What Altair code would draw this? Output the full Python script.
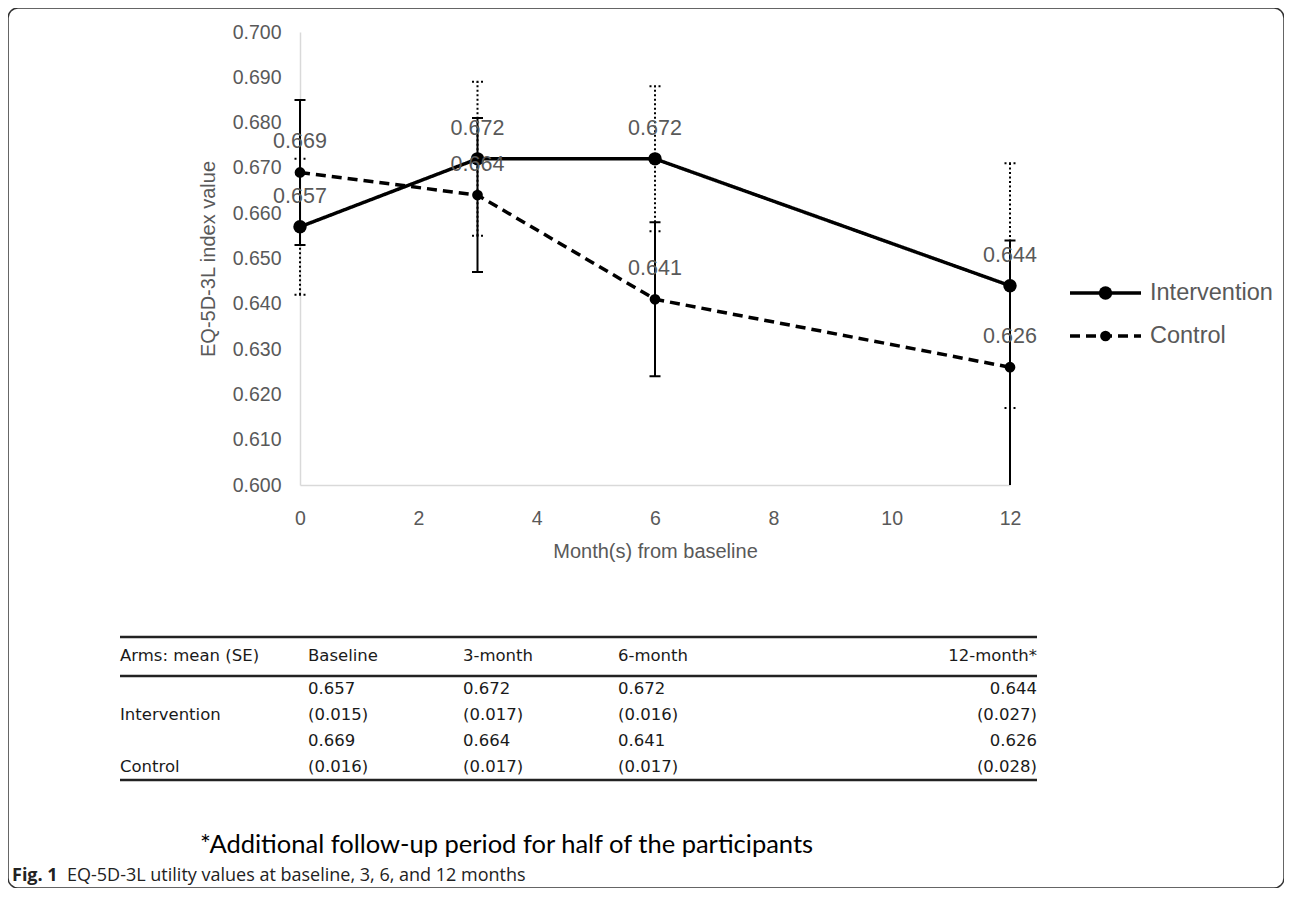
import altair as alt
import pandas as pd

# ---------------- data ----------------
months = [0, 3, 6, 12]
series = ["Intervention", "Control"]
int_mean = [0.657, 0.672, 0.672, 0.644]
int_se = [0.015, 0.017, 0.016, 0.027]
ctl_mean = [0.669, 0.664, 0.641, 0.626]
ctl_se = [0.016, 0.017, 0.017, 0.028]

x_ticks = [0, 2, 4, 6, 8, 10, 12]
y_ticks = [0.600, 0.610, 0.620, 0.630, 0.640, 0.650, 0.660, 0.670, 0.680, 0.690, 0.700]

table_headers = ["Arms: mean (SE)", "Baseline", "3-month", "6-month", "12-month*"]
table_row_labels = ["Intervention", "Control"]

footnote = "*Additional follow-up period for half of the participants"
caption_bold = "Fig. 1"
caption_text = "EQ-5D-3L utility values at baseline, 3, 6, and 12 months"

# ---------------- frames ----------------
rows = []
for name, means, ses in [("Intervention", int_mean, int_se), ("Control", ctl_mean, ctl_se)]:
    for m, v, s in zip(months, means, ses):
        rows.append({"month": m, "series": name, "mean": v, "se": s,
                     "lo": round(v - s, 4), "hi": round(v + s, 4), "label": f"{v:.3f}"})
df = pd.DataFrame(rows)

W, H = 1276, 880
GRAY = "#595959"
FONT = "Liberation Sans"

XS = alt.Scale(domain=[0, 12], range=[292, 1002], nice=False, zero=False)
YS = alt.Scale(domain=[0.6, 0.7], range=[477, 24], nice=False, zero=False, clamp=True)

x_axis = alt.Axis(values=x_ticks, title="Month(s) from baseline", grid=False, ticks=False, tickSize=0,
                  domainColor="#d9d9d9", domainWidth=1.5, labelFont=FONT, labelFontSize=19.5,
                  labelColor=GRAY, labelPadding=24, labelFlush=False, titleFont=FONT, titleFontSize=20,
                  titleColor=GRAY, titleFontWeight="normal", titlePadding=14, offset=477 - H)
y_axis = alt.Axis(values=y_ticks, format=".3f", title="EQ-5D-3L index value", grid=False, ticks=False,
                  tickSize=0, domainColor="#d9d9d9", domainWidth=1.5, labelFont=FONT, labelFontSize=19.5,
                  labelColor=GRAY, labelPadding=19, titleFont=FONT, titleFontSize=20, titleColor=GRAY,
                  titleFontWeight="normal", titlePadding=14, offset=-292)


def X(field="month"):
    return alt.X(f"{field}:Q", scale=XS, axis=x_axis)


def Y(field):
    return alt.Y(f"{field}:Q", scale=YS, axis=y_axis)


base = alt.Chart(df)
main_layers = []
# error bars: intervention dotted, control solid
for name, dash in [("Intervention", [2, 2.5]), ("Control", [1, 0])]:
    sub = base.transform_filter(alt.datum.series == name)
    main_layers.append(sub.mark_rule(color="black", strokeWidth=2, strokeDash=dash)
                       .encode(x=X(), y=Y("lo"), y2="hi:Q"))
    for end in ["lo", "hi"]:
        main_layers.append(sub.transform_filter(f"datum.{end} >= 0.6")
                           .mark_rule(color="black", strokeWidth=2, strokeDash=dash,
                                      xOffset=-5.5, x2Offset=5.5)
                           .encode(x=X(), x2="month:Q", y=Y(end)))
# lines and points
for name, dash, size in [("Intervention", [1, 0], 180), ("Control", [10, 6], 115)]:
    sub = base.transform_filter(alt.datum.series == name)
    main_layers.append(sub.mark_line(color="black", strokeWidth=3.5, strokeDash=dash)
                       .encode(x=X(), y=Y("mean")))
    main_layers.append(sub.mark_point(filled=True, color="black", opacity=1, size=size)
                       .encode(x=X(), y=Y("mean")))
main_layers.append(base.mark_text(dy=-30, font=FONT, fontSize=21.5, color=GRAY)
                   .encode(x=X(), y=Y("mean"), text="label:N"))
main = alt.layer(*main_layers)

# ---------------- legend ----------------
leg_df = pd.DataFrame({"series": series})
LX = alt.Scale(domain=[0, 1], range=[1062, 1133], nice=False, zero=False)
LY = alt.Scale(type="point", domain=series, range=[285, 328], padding=0)
leg_base = alt.Chart(leg_df)
leg_layers = []
for name, dash, size in [("Intervention", [1, 0], 180), ("Control", [10, 6], 115)]:
    sub = leg_base.transform_filter(alt.datum.series == name)
    leg_layers.append(sub.mark_rule(color="black", strokeWidth=3.5, strokeDash=dash)
                      .encode(x=alt.XDatum(0, scale=LX, axis=None), x2=alt.X2Datum(1),
                              y=alt.Y("series:N", scale=LY, axis=None)))
    leg_layers.append(sub.mark_point(filled=True, color="black", opacity=1, size=size)
                      .encode(x=alt.XDatum(0.5, scale=LX, axis=None),
                              y=alt.Y("series:N", scale=LY, axis=None)))
leg_layers.append(leg_base.mark_text(align="left", dx=9, font=FONT, fontSize=23.5, color=GRAY)
                  .encode(x=alt.XDatum(1, scale=LX, axis=None),
                          y=alt.Y("series:N", scale=LY, axis=None), text="series:N"))
legend = alt.layer(*leg_layers)

# ---------------- table ----------------
cells = []
for c, h in enumerate(table_headers):
    cells.append({"col": c, "row": 0, "text": h})
for r, (name, means, ses) in enumerate([("Intervention", int_mean, int_se), ("Control", ctl_mean, ctl_se)]):
    cells.append({"col": 0, "row": 2 * r + 2, "text": name})
    for c, (v, s) in enumerate(zip(means, ses)):
        cells.append({"col": c + 1, "row": 2 * r + 1, "text": f"{v:.3f}"})
        cells.append({"col": c + 1, "row": 2 * r + 2, "text": f"({s:.3f})"})
cells_df = pd.DataFrame(cells)
TX = alt.Scale(domain=[0, 1, 2, 3, 4], range=[112, 300, 455, 610, 1029], nice=False, zero=False)
TY = alt.Scale(domain=[-0.5, 0, 0.5, 1, 4, 4.5], range=[629, 648, 668, 681, 759, 772], nice=False, zero=False)
tbase = alt.Chart(cells_df)
TFONT = "DejaVu Sans"
t_left = tbase.transform_filter("datum.col < 4").mark_text(
    align="left", font=TFONT, fontSize=16.5, color="#1a1a1a").encode(
    x=alt.X("col:Q", scale=TX, axis=None), y=alt.Y("row:Q", scale=TY, axis=None), text="text:N")
t_right = tbase.transform_filter("datum.col == 4").mark_text(
    align="right", font=TFONT, fontSize=16.5, color="#1a1a1a").encode(
    x=alt.X("col:Q", scale=TX, axis=None), y=alt.Y("row:Q", scale=TY, axis=None), text="text:N")
bounds_df = pd.DataFrame({"b": [-0.5, 0.5, 4.5]})
t_rules = alt.Chart(bounds_df).mark_rule(color="#222222", strokeWidth=2.5).encode(
    x=alt.XDatum(0, scale=TX, axis=None), x2=alt.X2Datum(4), y=alt.Y("b:Q", scale=TY, axis=None))
table = alt.layer(t_rules, t_left, t_right)

# ---------------- notes ----------------
notes_df = pd.DataFrame({"k": [0]})
nb = alt.Chart(notes_df)
note = nb.mark_text(align="left", font="Lato", fontSize=25.5, color="black", text=footnote).encode(
    x=alt.value(192), y=alt.value(837))
cap1 = nb.mark_text(align="left", font="Open Sans", fontSize=18, fontWeight="bold", color="#222222",
                    text=caption_bold).encode(x=alt.value(4), y=alt.value(868))
cap2 = nb.mark_text(align="left", font="Open Sans", fontSize=18, color="#222222",
                    text=caption_text).encode(x=alt.value(59), y=alt.value(868))
notes = alt.layer(note, cap1, cap2)

chart = alt.layer(main, legend, table, notes).resolve_scale(
    x="independent", y="independent").properties(
    width=W, height=H, padding=0).configure_view(
    stroke="#333333", strokeWidth=1.5, cornerRadius=10)

chart.save("out.html", embed_options={"renderer": "svg", "actions": False})
